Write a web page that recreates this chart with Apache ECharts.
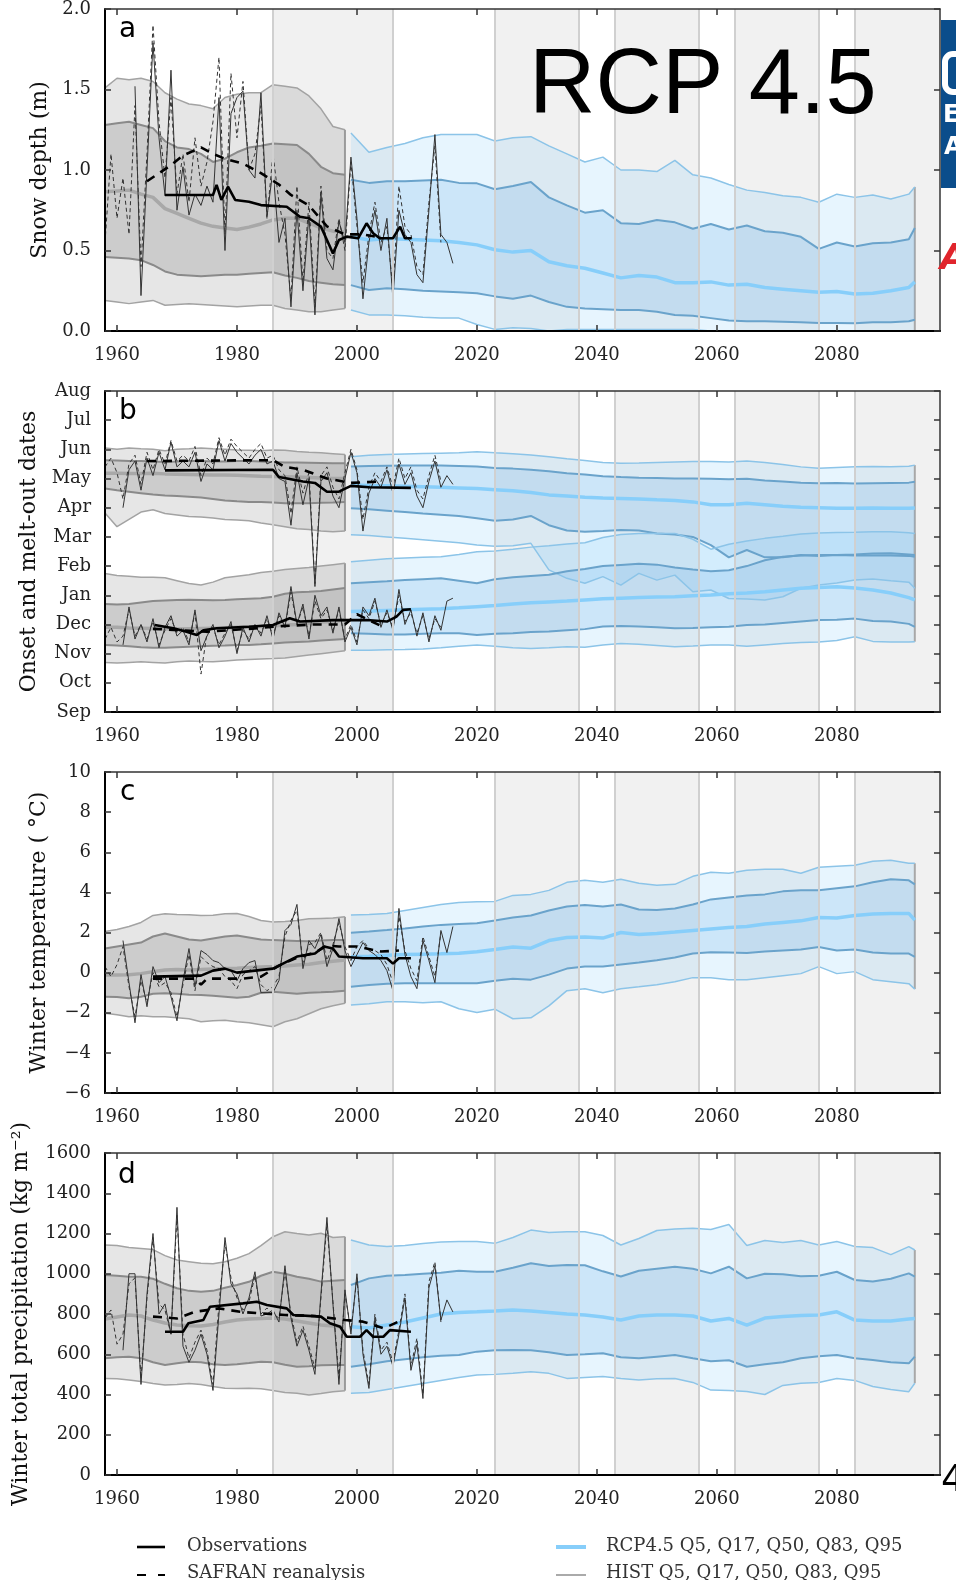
<!DOCTYPE html>
<html><head><meta charset="utf-8">
<script src="https://cdn.jsdelivr.net/npm/echarts@6/dist/echarts.min.js"></script>
<style>html,body{margin:0;padding:0;background:#fff}#c{width:956px;height:1580px}</style>
</head><body><div id="c"></div>
<script>
function range(a, b) { const r = []; for (let y = a; y <= b; y++) r.push(y); return r; }

// ---------- shared categories ----------
const HIST_YEARS = [1958,1960,1962,1964,1966,1968,1970,1972,1974,1976,1978,1980,1982,1984,1986,1988,1990,1992,1994,1996,1998];
const RCP_YEARS = [1999,2002,2005,2008,2011,2014,2017,2020,2023,2026,2029,2032,2035,2038,2041,2044,2047,2050,2053,2056,2059,2062,2065,2068,2071,2074,2077,2080,2083,2086,2089,2092,2093];
const OBS_YEARS = range(1961, 2016);
const SNOW_OBS_YEARS = range(1963, 2016);
const SAFRAN_YEARS = range(1958, 2014);
const X_TICKS = [1960,1980,2000,2020,2040,2060,2080];
const MONTHS = ['Sep','Oct','Nov','Dec','Jan','Feb','Mar','Apr','May','Jun','Jul','Aug'];
const SHADED_PERIODS = [[1986,2006],[2023,2037],[2043,2057],[2063,2077],[2083,2097.2]];

// ---------- panel a : snow depth (m) ----------
const snowHistQ95 = [1.51,1.57,1.56,1.57,1.55,1.48,1.44,1.41,1.40,1.38,1.45,1.47,1.48,1.48,1.53,1.52,1.51,1.46,1.38,1.27,1.25];
const snowHistQ83 = [1.28,1.29,1.30,1.28,1.26,1.18,1.14,1.13,1.10,1.05,1.07,1.11,1.14,1.15,1.165,1.16,1.155,1.10,1.02,0.98,0.97];
const snowHistQ50 = [0.865,0.87,0.875,0.85,0.83,0.76,0.73,0.70,0.67,0.65,0.64,0.63,0.645,0.665,0.69,0.70,0.70,0.67,0.64,0.62,0.615];
const snowHistQ17 = [0.46,0.455,0.45,0.44,0.41,0.37,0.35,0.345,0.34,0.345,0.35,0.35,0.355,0.36,0.365,0.345,0.33,0.31,0.30,0.29,0.285];
const snowHistQ5  = [0.19,0.18,0.17,0.18,0.19,0.16,0.165,0.17,0.165,0.16,0.155,0.15,0.155,0.16,0.16,0.14,0.13,0.12,0.12,0.13,0.14];
const snowRcpQ95 = [1.23,1.11,1.14,1.165,1.20,1.22,1.22,1.22,1.18,1.20,1.207,1.15,1.10,1.05,1.08,1.00,1.00,0.99,1.06,0.97,0.95,0.91,0.875,0.86,0.84,0.83,0.80,0.85,0.83,0.845,0.82,0.85,0.895];
const snowRcpQ83 = [0.94,0.92,0.93,0.93,0.935,0.94,0.92,0.917,0.88,0.90,0.925,0.83,0.78,0.735,0.75,0.67,0.665,0.69,0.675,0.635,0.665,0.63,0.655,0.62,0.61,0.585,0.51,0.55,0.525,0.545,0.55,0.57,0.64];
const snowRcpQ50 = [0.585,0.565,0.575,0.57,0.565,0.56,0.55,0.535,0.505,0.49,0.50,0.43,0.405,0.39,0.36,0.33,0.345,0.335,0.30,0.30,0.305,0.285,0.29,0.27,0.26,0.25,0.24,0.245,0.23,0.235,0.25,0.27,0.305];
const snowRcpQ17 = [0.285,0.255,0.265,0.26,0.25,0.245,0.24,0.234,0.215,0.20,0.22,0.18,0.15,0.14,0.135,0.13,0.13,0.12,0.10,0.095,0.08,0.065,0.06,0.06,0.058,0.055,0.05,0.05,0.048,0.055,0.055,0.06,0.07];
const snowRcpQ5  = [0.13,0.10,0.10,0.095,0.085,0.08,0.08,0.04,0.01,0.02,0.015,0,0.01,0.01,0.01,0.01,0.01,0.01,0.01,0.01,0,0,0,0,0,0,0,0,0,0,0,0,0];
const snowObs = [1.52,0.22,1.0,1.79,1.2,0.84,1.62,0.75,1.02,0.72, 0.85,0.78,0.9,0.8,1.45,0.5,1.35,1.45,1.49,1.0, 0.95,1.48,0.71,1.0,0.55,0.7,0.15,0.75,0.25,0.72, 0.1,0.85,0.45,0.38,0.68,0.55,1.08,0.7,0.2,0.55, 0.75,0.5,0.7,0.2,0.75,0.6,0.55,0.35,0.3,0.75, 1.22,0.6,0.55,0.42];
const snowSafran = [0.55,1.1,0.7,0.95,0.6,1.4,0.4,1.1,1.9,1.3, 0.95,1.45,0.85,1.1,0.8,1.2,0.9,1.05,1.3,1.7, 0.6,1.6,1.2,1.55,1.0,1.1,1.4,0.7,1.1,0.8, 0.6,0.2,0.9,0.3,0.8,0.15,0.9,0.5,0.45,0.7, 0.5,1.05,0.65,0.3,0.6,0.8,0.55,0.65,0.25,0.9, 0.65,0.6,0.4,0.35,0.8,1.15,0.55];
const snowObsSmoothYears = [1968,1976,1976.6,1977.4,1978.5,1979.7,1982,1984,1988.3,1990.5,1992,1994,1995,1996,1997,1998.3,2000.2,2001.6,2002.7,2003.8,2006,2007.2,2008,2009.1];
const snowObsSmooth = [0.845,0.845,0.907,0.814,0.896,0.814,0.803,0.782,0.772,0.71,0.70,0.648,0.565,0.482,0.565,0.586,0.576,0.669,0.607,0.576,0.576,0.648,0.576,0.576];
const snowSafranSmoothYears = [1965,1967,1969,1971,1974,1976,1978,1981,1984,1987,1989,1992,1995,1998,2001,2004];
const snowSafranSmooth = [0.93,0.98,1.03,1.09,1.14,1.1,1.07,1.04,0.98,0.91,0.845,0.78,0.65,0.6,0.6,0.58];

// ---------- panel b : dates (months after 1 Sep) ----------
const meltHistQ95 = [9.05,9.0,9.05,9.02,9.0,8.95,9.0,9.02,9.05,9.02,9.0,8.98,8.97,8.95,8.98,8.97,8.93,8.9,8.88,8.85,8.82];
const meltHistQ83 = [8.63,8.62,8.6,8.6,8.58,8.57,8.58,8.6,8.6,8.58,8.58,8.6,8.6,8.58,8.57,8.55,8.55,8.54,8.53,8.52,8.52];
const meltHistQ50 = [8.18,8.18,8.17,8.17,8.18,8.16,8.15,8.14,8.13,8.12,8.12,8.11,8.1,8.08,8.07,8.06,8.05,8.04,8.02,8.0,8.0];
const meltHistQ17 = [7.66,7.6,7.55,7.5,7.45,7.42,7.4,7.38,7.35,7.3,7.25,7.22,7.2,7.2,7.18,7.15,7.15,7.15,7.17,7.18,7.2];
const meltHistQ5  = [6.82,6.35,6.6,6.85,6.93,6.8,6.75,6.7,6.68,6.65,6.6,6.58,6.55,6.48,6.42,6.35,6.28,6.25,6.2,6.18,6.2];
const onsetHistQ95 = [4.75,4.68,4.65,4.62,4.62,4.6,4.5,4.4,4.35,4.45,4.6,4.65,4.7,4.78,4.82,4.88,4.92,4.95,5.0,5.05,5.1];
const onsetHistQ83 = [3.7,3.68,3.7,3.75,3.8,3.82,3.84,3.85,3.84,3.83,3.84,3.86,3.88,3.9,3.95,4.05,4.1,4.12,4.15,4.2,4.25];
const onsetHistQ50 = [2.9,2.9,2.88,2.87,2.86,2.85,2.84,2.85,2.86,2.87,2.88,2.9,2.92,2.93,2.95,2.98,3.0,3.05,3.08,3.1,3.15];
const onsetHistQ17 = [2.3,2.28,2.25,2.22,2.2,2.2,2.22,2.24,2.25,2.27,2.28,2.3,2.3,2.32,2.35,2.38,2.4,2.42,2.45,2.48,2.5];
const onsetHistQ5  = [1.7,1.68,1.7,1.72,1.7,1.68,1.72,1.75,1.73,1.72,1.75,1.78,1.8,1.82,1.83,1.85,1.9,1.95,2.0,2.05,2.1];
const meltRcpQ95 = [8.75,8.8,8.82,8.84,8.86,8.87,8.88,8.92,8.88,8.85,8.81,8.75,8.68,8.62,8.55,8.52,8.53,8.55,8.57,8.58,8.58,8.57,8.6,8.55,8.48,8.4,8.35,8.38,8.4,8.41,8.4,8.42,8.46];
const meltRcpQ83 = [8.41,8.43,8.44,8.45,8.45,8.45,8.43,8.41,8.36,8.34,8.3,8.25,8.18,8.14,8.08,8.05,8.03,8.02,8.0,8.0,7.99,7.98,7.99,7.93,7.9,7.86,7.84,7.85,7.83,7.84,7.85,7.86,7.89];
const meltRcpQ50 = [7.78,7.76,7.75,7.74,7.72,7.7,7.68,7.66,7.62,7.58,7.52,7.44,7.4,7.36,7.33,7.32,7.3,7.27,7.25,7.2,7.1,7.1,7.15,7.1,7.05,7.02,7.0,6.98,6.98,6.99,6.98,6.98,6.99];
const meltRcpQ17 = [6.98,6.95,6.9,6.85,6.8,6.76,6.72,6.64,6.55,6.6,6.72,6.4,6.22,6.18,6.2,6.24,6.22,6.12,6.08,6.0,5.72,5.3,5.55,5.3,5.3,5.38,5.35,5.38,5.36,5.36,5.36,5.35,5.32];
const meltRcpQ5  = [6.07,6.05,6.0,5.95,5.9,5.85,5.8,5.72,5.68,5.7,5.78,4.87,4.58,4.41,4.64,4.35,4.75,4.52,4.69,4.12,4.18,3.89,3.87,3.84,3.95,4.24,4.35,4.42,4.52,4.56,4.5,4.45,4.24];
const onsetRcpQ95 = [5.15,5.2,5.25,5.28,5.3,5.32,5.4,5.49,5.52,5.58,5.65,5.7,5.76,5.8,5.98,6.08,6.12,6.12,6.12,5.92,5.58,5.75,5.86,5.95,6.02,6.1,6.13,6.15,6.16,6.18,6.18,6.14,6.12];
const onsetRcpQ83 = [4.41,4.45,4.48,4.52,4.55,4.58,4.5,4.41,4.55,4.62,4.66,4.7,4.82,4.9,5.0,5.04,5.08,5.05,4.95,4.88,4.82,4.86,5.0,5.2,5.32,5.36,5.38,5.38,5.4,5.43,5.44,5.4,5.38];
const onsetRcpQ50 = [3.44,3.46,3.48,3.5,3.52,3.54,3.57,3.61,3.65,3.7,3.74,3.77,3.8,3.84,3.88,3.9,3.92,3.94,3.95,3.98,4.01,4.05,4.08,4.12,4.18,4.24,4.27,4.29,4.25,4.18,4.08,3.92,3.84];
const onsetRcpQ17 = [2.7,2.68,2.66,2.66,2.68,2.7,2.7,2.64,2.68,2.7,2.74,2.76,2.8,2.84,2.93,2.95,2.93,2.9,2.87,2.88,2.9,2.92,2.98,3.0,3.05,3.1,3.15,3.16,3.2,3.12,3.1,3.02,2.92];
const onsetRcpQ5  = [2.12,2.12,2.13,2.14,2.16,2.2,2.25,2.3,2.25,2.2,2.18,2.2,2.24,2.22,2.3,2.35,2.32,2.28,2.24,2.26,2.3,2.3,2.25,2.3,2.35,2.38,2.4,2.45,2.58,2.42,2.4,2.4,2.41];
const meltObs = [7.0,8.3,8.6,7.6,8.7,8.1,8.9,8.3,9.25,8.4, 8.6,8.4,8.9,7.9,8.5,8.3,9.3,8.6,9.2,8.9, 8.7,8.5,8.8,9.0,8.5,8.6,8.0,7.9,6.4,8.2, 7.1,8.0,4.3,7.9,8.2,7.4,7.0,8.0,8.9,8.2, 6.2,7.5,8.0,7.7,8.3,7.5,8.5,7.8,8.2,7.4, 7.0,7.9,8.6,7.7,8.1,7.8];
const onsetObs = [2.3,3.6,2.5,3.0,2.4,3.2,2.2,2.9,3.3,2.6, 2.8,2.3,3.5,2.1,2.6,3.0,2.2,2.6,3.1,2.0, 2.9,2.4,3.0,2.6,3.3,2.5,3.4,2.9,4.3,3.0, 3.7,2.5,4.0,3.3,3.6,2.7,3.6,2.4,2.9,2.3, 3.6,3.3,3.9,2.9,3.5,2.8,4.2,3.0,3.5,2.6, 3.4,2.4,3.3,2.8,3.8,3.9];
const meltSafran = [8.4,8.7,8.2,7.3,8.5,8.8,7.8,8.9,8.3,9.0, 8.5,9.3,8.6,8.8,8.6,9.1,8.1,8.7,8.5,9.4, 8.8,9.35,9.1,8.9,8.7,9.0,9.2,8.7,8.8,8.3, 8.1,6.8,8.4,7.5,8.2,4.4,8.1,8.4,7.7,7.3, 8.2,9.0,8.3,6.6,7.7,8.2,7.9,8.4,7.7,8.7, 8.0,8.4,7.6,7.3,8.1,8.8,7.9];
const onsetSafran = [2.5,2.9,2.4,2.6,3.5,2.6,3.0,2.5,3.1,2.3, 2.8,3.2,2.7,2.9,2.4,3.4,1.3,2.7,2.9,2.3, 2.7,3.0,2.1,2.8,2.5,3.0,2.7,3.2,2.6,3.3, 2.9,4.1,3.0,3.6,2.6,3.8,3.2,3.5,2.8,3.5, 2.5,3.0,2.4,3.5,3.2,3.8,3.0,3.4,2.9,4.0, 3.1,3.4,2.7,3.3,2.5,3.2,2.9];
const meltObsSmoothYears = [1968,1986,1987,1991,1993,1995,1997,1999,2002,2009];
const meltObsSmooth = [8.28,8.3,8.05,7.9,7.85,7.55,7.55,7.75,7.7,7.68];
const meltSafranSmoothYears = [1965,1986,1988,1991,1995,1999,2004];
const meltSafranSmooth = [8.6,8.63,8.4,8.3,8.0,7.85,7.9];
const onsetObsSmoothYears = [1966.3,1969.4,1971.6,1973.3,1974.4,1976.6,1982,1986,1988.8,1990.5,1996,2001.6,2005,2006.6,2007.7,2009];
const onsetObsSmooth = [2.98,2.87,2.75,2.64,2.8,2.87,2.92,2.98,3.21,3.1,3.15,3.15,3.1,3.27,3.5,3.52];
const onsetSafranSmoothYears = [1966,1975,1982,1988,1993,1998,2000,2004];
const onsetSafranSmooth = [2.85,2.75,2.85,2.95,3.0,3.0,3.35,2.95];

// ---------- panel c : winter temperature (°C) ----------
const tempHistQ95 = [2.05,2.15,2.3,2.5,2.85,2.94,2.9,2.88,2.85,2.86,2.93,2.95,2.8,2.6,2.52,2.55,2.6,2.68,2.7,2.72,2.78];
const tempHistQ83 = [1.2,1.3,1.4,1.5,1.8,1.95,1.8,1.65,1.6,1.7,1.8,1.85,1.75,1.65,1.62,1.6,1.58,1.56,1.6,1.63,1.63];
const tempHistQ50 = [-0.12,-0.12,-0.1,-0.05,0.05,0.13,0.15,0.13,0.15,0.18,0.2,0.22,0.25,0.28,0.3,0.33,0.38,0.42,0.5,0.57,0.63];
const tempHistQ17 = [-1.2,-1.22,-1.28,-1.2,-1.05,-1.03,-1.05,-1.1,-1.12,-1.15,-1.2,-1.25,-1.2,-1.0,-0.95,-1.0,-1.05,-1.0,-0.98,-0.95,-0.9];
const tempHistQ5  = [-2.03,-2.1,-2.2,-2.15,-2.2,-2.2,-2.25,-2.3,-2.45,-2.4,-2.37,-2.45,-2.5,-2.6,-2.7,-2.45,-2.3,-2.05,-1.8,-1.65,-1.53];
const tempRcpQ95 = [2.87,2.9,2.95,3.1,3.25,3.4,3.5,3.53,3.55,3.85,3.9,4.1,4.5,4.6,4.5,4.65,4.45,4.35,4.4,4.8,5.0,4.95,5.1,5.15,5.15,4.95,5.25,5.3,5.35,5.55,5.6,5.45,5.45];
const tempRcpQ83 = [1.99,2.05,2.12,2.2,2.3,2.38,2.42,2.46,2.6,2.75,2.85,3.1,3.3,3.37,3.3,3.4,3.15,3.12,3.2,3.4,3.65,3.75,3.85,3.9,4.05,4.1,4.1,4.2,4.3,4.5,4.65,4.6,4.4];
const tempRcpQ50 = [0.79,0.82,0.87,0.9,0.92,0.94,0.97,1.04,1.15,1.28,1.22,1.6,1.75,1.78,1.72,2.0,1.9,1.95,2.02,2.1,2.18,2.25,2.3,2.42,2.5,2.58,2.75,2.72,2.85,2.92,2.95,2.95,2.62];
const tempRcpQ17 = [-0.7,-0.62,-0.55,-0.53,-0.53,-0.53,-0.53,-0.53,-0.4,-0.3,-0.35,-0.1,0.2,0.3,0.3,0.4,0.5,0.62,0.75,0.95,1.02,1.0,0.98,1.05,1.1,1.15,1.28,1.1,1.15,1.0,0.95,0.95,0.79];
const tempRcpQ5  = [-1.61,-1.55,-1.45,-1.45,-1.5,-1.45,-1.8,-1.99,-1.82,-2.3,-2.25,-1.66,-0.9,-0.8,-1.0,-0.8,-0.7,-0.6,-0.45,-0.25,-0.25,-0.35,-0.35,-0.25,-0.15,-0.05,0.3,-0.05,0.05,-0.35,-0.45,-0.55,-0.82];
const tempObs = [1.6,-0.5,-2.5,-0.1,-1.7,0.3,-0.5,-0.2,-1.2,-2.4, -0.4,1.2,-0.7,1.1,0.9,0.6,0.5,0.2,0.1,-0.4, 0.2,0.5,0.6,-1.0,-1.0,-1.0,-0.4,2.1,2.4,3.4, 0.2,1.6,1.2,1.9,0.3,1.2,2.7,1.1,0.3,0.9, 1.5,1.1,0.9,0.6,0.1,-0.9,3.2,0.9,-0.2,-0.8, 1.6,0.6,-0.5,2.1,1.0,2.3];
const tempSafran = [0.3,-0.2,0.4, 1.3,-0.7,-2.2,-0.4,-1.5,0.0,-0.7,-0.5,-1.0,-2.2, -0.6,0.9,-0.9,0.8,0.5,0.3,0.2,-0.2,-0.4,-0.8, -0.1,0.1,0.3,-0.6,-0.9,-0.7,-0.2,1.8,2.6,3.1, 0.5,1.4,1.5,2.0,0.6,1.4,2.5,1.3,0.6,1.3, 1.6,1.2,1.1,0.9,0.4,-0.5,2.8,1.1,0.2,-0.4, 1.8,0.8,-0.2,2.0];
const tempObsSmoothYears = [1966,1974,1976,1978,1980,1983,1986,1988,1990,1993,1994.5,1996,1997,2001,2005,2006,2007,2009];
const tempObsSmooth = [-0.2,-0.15,0.1,0.2,0.0,0.1,0.2,0.5,0.8,0.95,1.3,1.2,0.8,0.72,0.72,0.45,0.72,0.72];
const tempSafranSmoothYears = [1966,1973,1974,1975,1981,1984,1987,1990,1993,1995,1997,2000,2004,2007];
const tempSafranSmooth = [-0.3,-0.3,-0.6,-0.3,-0.3,-0.2,0.35,0.75,1.0,1.35,1.3,1.3,1.05,1.1];

// ---------- panel d : winter total precipitation (kg m-2) ----------
const precHistQ95 = [1143,1140,1130,1126,1120,1090,1068,1060,1052,1050,1060,1077,1100,1140,1184,1209,1200,1193,1201,1180,1184];
const precHistQ83 = [994,990,985,985,975,950,928,915,911,915,930,944,960,990,1010,1000,985,975,961,965,969];
const precHistQ50 = [775,785,795,790,770,755,745,742,740,748,760,770,775,778,780,775,765,755,745,740,735];
const precHistQ17 = [580,585,588,580,560,547,555,563,560,550,547,550,556,563,560,548,538,540,545,547,547];
const precHistQ5  = [480,478,472,465,455,447,450,455,450,440,431,430,431,428,420,410,406,398,405,414,419];
const precRcpQ95 = [1168,1143,1135,1140,1150,1158,1160,1160,1151,1180,1217,1205,1209,1209,1190,1143,1175,1215,1222,1226,1220,1245,1140,1165,1155,1165,1143,1160,1135,1130,1095,1135,1118];
const precRcpQ83 = [944,977,990,994,1000,1005,1015,1010,1010,1030,1052,1038,1044,1042,1012,986,1015,1025,1035,1025,1002,1035,977,1000,998,988,990,1010,969,961,975,1002,986];
const precRcpQ50 = [737,730,745,760,780,800,808,811,815,820,815,808,800,795,785,770,790,795,795,790,765,778,745,780,787,792,795,811,770,765,765,775,778];
const precRcpQ17 = [538,550,565,575,585,592,596,613,620,621,620,610,596,600,605,585,580,588,596,580,565,570,538,550,560,580,590,596,580,571,560,555,588];
const precRcpQ5  = [406,410,425,440,455,470,485,497,500,505,513,505,480,485,489,480,472,478,480,460,422,420,415,400,445,456,460,480,470,440,425,414,456];
const precObs = [620,1000,1000,450,900,1200,800,850,700,1330, 640,560,620,700,600,420,800,1180,950,900, 800,880,1010,790,800,820,760,1040,780,640, 720,620,500,900,1280,850,450,920,700,1000, 600,430,780,600,640,540,700,880,520,650, 380,930,1040,770,870,810];
const precSafran = [780,820,650, 700,950,980,480,880,1180,850,820,700,1290, 700,580,660,720,620,450,850,1150,980,880, 820,860,990,800,830,800,780,1010,800,660, 740,640,530,880,1250,860,480,900,720,980, 620,450,800,620,660,560,720,900,540,680, 400,960,1060,760];
const precObsSmoothYears = [1968,1971,1971.9,1974.4,1975.5,1981,1983.3,1985,1988.3,1989.4,1994,1995.5,1997.2,1998.3,2000.5,2001.6,2002.7,2004.4,2005.5,2009];
const precObsSmooth = [712,712,754,770,836,853,861,845,828,795,787,754,737,687,687,720,687,687,720,712];
const precSafranSmoothYears = [1966,1970,1973,1977,1980.5,1984,1988,1993,1998,2001,2004.5,2007.5];
const precSafranSmooth = [787,778,811,828,811,803,795,790,770,762,729,770];

// ---------- styling ----------
const SERIF = 'DejaVu Serif';
const HIST_COL = {outer:'rgba(128,128,128,0.2)', inner:'rgba(128,128,128,0.25)', q5:'#a3a3a3', q17:'#8a8a8a', q50:'#a8a8a8', edge:'#9a9a9a'};
const RCP_COL = {outer:'rgba(135,206,250,0.2)', inner:'rgba(100,170,230,0.2)', q5:'#8cc4e8', q17:'#6aa3cb', q50:'#87cefa', edge:'#a8a8a8'};

function check(name, xs, ys) { if (xs.length !== ys.length) throw new Error('length mismatch ' + name + ': ' + xs.length + ' vs ' + ys.length); }

function band(gi, xs, lo, hi, fill, edge) {
  return {
    type: 'custom', xAxisIndex: 2 * gi, yAxisIndex: 2 * gi, silent: true, z: 2,
    data: [[xs[0], lo[0]]],
    renderItem: function (params, api) {
      const pts = [];
      for (let k = 0; k < xs.length; k++) pts.push(api.coord([xs[k], hi[k]]));
      for (let k = xs.length - 1; k >= 0; k--) pts.push(api.coord([xs[k], lo[k]]));
      const children = [{type: 'polygon', shape: {points: pts}, style: {fill: fill}}];
      if (edge) {
        const n = xs.length - 1;
        const a = api.coord([xs[n], lo[n]]), b = api.coord([xs[n], hi[n]]);
        children.push({type: 'line', shape: {x1: a[0], y1: a[1], x2: b[0], y2: b[1]}, style: {stroke: edge, lineWidth: 2}});
      }
      return {type: 'group', children: children};
    }
  };
}
function line(gi, xs, ys, style, z, name) {
  check(name || 'line', xs, ys);
  return {type: 'line', xAxisIndex: 2 * gi, yAxisIndex: 2 * gi, data: xs.map((x, k) => [x, ys[k]]),
    showSymbol: false, symbol: 'none', silent: true, z: z, lineStyle: style, clip: true};
}
function quantiles(gi, xs, q, col, name) {
  q.forEach((arr, i) => check(name + i, xs, arr));
  return [
    band(gi, xs, q[0], q[4], col.outer, col.edge),
    band(gi, xs, q[1], q[3], col.inner, null),
    line(gi, xs, q[0], {color: col.q5, width: 1.5}, 3),
    line(gi, xs, q[4], {color: col.q5, width: 1.5}, 3),
    line(gi, xs, q[1], {color: col.q17, width: 2}, 3),
    line(gi, xs, q[3], {color: col.q17, width: 2}, 3),
    line(gi, xs, q[2], {color: col.q50, width: 3.5}, 3)
  ];
}
function observations(gi, obsX, obs, safX, saf, obsSX, obsS, safSX, safS, name) {
  return [
    line(gi, safX, saf, {color: '#333', width: 1, type: [4, 3]}, 4, name + 'saf'),
    line(gi, obsX, obs, {color: '#333', width: 1}, 4, name + 'obs'),
    line(gi, safSX, safS, {color: '#000', width: 2.6, type: [9, 7]}, 5, name + 'safS'),
    line(gi, obsSX, obsS, {color: '#000', width: 2.6}, 5, name + 'obsS')
  ];
}
function periods(gi, yMin) {
  return {
    type: 'line', xAxisIndex: 2 * gi, yAxisIndex: 2 * gi, data: [[1958, yMin]], showSymbol: false, silent: true, z: 1,
    lineStyle: {width: 0},
    markArea: {silent: true, itemStyle: {color: '#f1f1f1'},
      data: SHADED_PERIODS.map(p => [{xAxis: p[0]}, {xAxis: p[1]}])},
    markLine: {silent: true, symbol: ['none', 'none'], label: {show: false},
      lineStyle: {color: '#d0d0d0', width: 2, type: 'solid'},
      data: SHADED_PERIODS.flatMap(p => p[1] < 2097 ? [{xAxis: p[0]}, {xAxis: p[1]}] : [{xAxis: p[0]}])}
  };
}

const GRIDS = [{top: 9, height: 322}, {top: 391, height: 321}, {top: 772, height: 321}, {top: 1153, height: 322}];
const Y_CFG = [
  {min: 0, max: 2, interval: 0.5, fmt: v => v.toFixed(1), name: 'Snow depth (m)', gap: 54},
  {min: 0, max: 11, interval: 1, fmt: v => MONTHS[Math.round(v)], name: 'Onset and melt-out dates', gap: 65},
  {min: -6, max: 10, interval: 2, fmt: v => v < 0 ? '\u2212' + Math.abs(v) : String(v), name: 'Winter temperature ( \u00b0C)', gap: 55},
  {min: 0, max: 1600, interval: 200, fmt: v => String(v), name: 'Winter total precipitation (kg m\u207b\u00b2)', gap: 73}
];

const grid = [], xAxis = [], yAxis = [];
GRIDS.forEach((g, i) => {
  grid.push({left: 105, width: 835, top: g.top, height: g.height, containLabel: false});
  const tick = {show: true, inside: true, length: 6, customValues: X_TICKS, lineStyle: {color: '#333', width: 1.5}};
  xAxis.push({gridIndex: i, type: 'value', min: 1958, max: 2097.2, position: 'bottom', z: 10,
    axisLine: {show: true, onZero: false, lineStyle: {color: '#000', width: 2}}, axisTick: tick,
    axisLabel: {show: true, customValues: X_TICKS, fontFamily: SERIF, fontSize: 18, color: '#222', margin: 15,
      formatter: v => String(Math.round(v))},
    splitLine: {show: false}});
  xAxis.push({gridIndex: i, type: 'value', min: 1958, max: 2097.2, position: 'top', z: 10,
    axisLine: {show: true, onZero: false, lineStyle: {color: '#333', width: 1.5}}, axisTick: tick,
    axisLabel: {show: false}, splitLine: {show: false}});
  const c = Y_CFG[i];
  const ytick = {show: true, inside: true, length: 6, lineStyle: {color: '#333', width: 1.5}};
  yAxis.push({gridIndex: i, type: 'value', min: c.min, max: c.max, interval: c.interval, position: 'left', z: 10,
    axisLine: {show: true, onZero: false, lineStyle: {color: '#000', width: 2}}, axisTick: ytick,
    axisLabel: {fontFamily: SERIF, fontSize: 18, color: '#222', margin: 14, formatter: c.fmt},
    splitLine: {show: false},
    name: c.name, nameLocation: 'middle', nameGap: c.gap, nameTextStyle: {fontFamily: SERIF, fontSize: 22, color: '#111'}});
  yAxis.push({gridIndex: i, type: 'value', min: c.min, max: c.max, interval: c.interval, position: 'right', z: 10,
    axisLine: {show: true, onZero: false, lineStyle: {color: '#333', width: 1.5}}, axisTick: ytick,
    axisLabel: {show: false}, splitLine: {show: false}});
});

const series = [].concat(
  [periods(0, 0)],
  quantiles(0, HIST_YEARS, [snowHistQ5, snowHistQ17, snowHistQ50, snowHistQ83, snowHistQ95], HIST_COL, 'snowHist'),
  quantiles(0, RCP_YEARS, [snowRcpQ5, snowRcpQ17, snowRcpQ50, snowRcpQ83, snowRcpQ95], RCP_COL, 'snowRcp'),
  observations(0, SNOW_OBS_YEARS, snowObs, SAFRAN_YEARS, snowSafran, snowObsSmoothYears, snowObsSmooth, snowSafranSmoothYears, snowSafranSmooth, 'snow'),

  [periods(1, 0)],
  quantiles(1, HIST_YEARS, [meltHistQ5, meltHistQ17, meltHistQ50, meltHistQ83, meltHistQ95], HIST_COL, 'meltHist'),
  quantiles(1, HIST_YEARS, [onsetHistQ5, onsetHistQ17, onsetHistQ50, onsetHistQ83, onsetHistQ95], HIST_COL, 'onsetHist'),
  quantiles(1, RCP_YEARS, [meltRcpQ5, meltRcpQ17, meltRcpQ50, meltRcpQ83, meltRcpQ95], RCP_COL, 'meltRcp'),
  quantiles(1, RCP_YEARS, [onsetRcpQ5, onsetRcpQ17, onsetRcpQ50, onsetRcpQ83, onsetRcpQ95], RCP_COL, 'onsetRcp'),
  observations(1, OBS_YEARS, meltObs, SAFRAN_YEARS, meltSafran, meltObsSmoothYears, meltObsSmooth, meltSafranSmoothYears, meltSafranSmooth, 'melt'),
  observations(1, OBS_YEARS, onsetObs, SAFRAN_YEARS, onsetSafran, onsetObsSmoothYears, onsetObsSmooth, onsetSafranSmoothYears, onsetSafranSmooth, 'onset'),

  [periods(2, -6)],
  quantiles(2, HIST_YEARS, [tempHistQ5, tempHistQ17, tempHistQ50, tempHistQ83, tempHistQ95], HIST_COL, 'tempHist'),
  quantiles(2, RCP_YEARS, [tempRcpQ5, tempRcpQ17, tempRcpQ50, tempRcpQ83, tempRcpQ95], RCP_COL, 'tempRcp'),
  observations(2, OBS_YEARS, tempObs, SAFRAN_YEARS, tempSafran, tempObsSmoothYears, tempObsSmooth, tempSafranSmoothYears, tempSafranSmooth, 'temp'),

  [periods(3, 0)],
  quantiles(3, HIST_YEARS, [precHistQ5, precHistQ17, precHistQ50, precHistQ83, precHistQ95], HIST_COL, 'precHist'),
  quantiles(3, RCP_YEARS, [precRcpQ5, precRcpQ17, precRcpQ50, precRcpQ83, precRcpQ95], RCP_COL, 'precRcp'),
  observations(3, OBS_YEARS, precObs, SAFRAN_YEARS, precSafran, precObsSmoothYears, precObsSmooth, precSafranSmoothYears, precSafranSmooth, 'prec')
);

function txt(x, y, text, font, fill, extra) {
  return {type: 'text', x: x, y: y, z: 20, silent: true,
    style: Object.assign({text: text, font: font, fill: fill || '#000', align: 'left', verticalAlign: 'middle'}, extra || {})};
}
function seg(x1, y1, x2, y2, stroke, w, dash) {
  return {type: 'line', z: 20, silent: true, shape: {x1: x1, y1: y1, x2: x2, y2: y2},
    style: {stroke: stroke, lineWidth: w, lineDash: dash || null}};
}
const LEG_FONT = '18px "DejaVu Serif"';
const graphic = [
  txt(119, 30, 'a', '28px "DejaVu Sans"'),
  txt(119, 412, 'b', '28px "DejaVu Sans"'),
  txt(120, 793, 'c', '28px "DejaVu Sans"'),
  txt(118, 1176, 'd', '28px "DejaVu Sans"'),
  txt(529, 88, 'RCP 4.5', '92px "Liberation Sans"'),
  // legend
  seg(137, 1547, 165, 1547, '#000', 2.6),
  txt(187, 1546, 'Observations', LEG_FONT, '#333'),
  seg(137, 1575, 165, 1575, '#000', 2.2, [9, 12]),
  txt(187, 1573, 'SAFRAN reanalysis', LEG_FONT, '#333'),
  seg(556, 1547, 586, 1547, '#87cefa', 4),
  txt(606, 1546, 'RCP4.5 Q5, Q17, Q50, Q83, Q95', LEG_FONT, '#333'),
  seg(556, 1575, 586, 1575, '#aaaaaa', 2),
  txt(606, 1573, 'HIST Q5, Q17, Q50, Q83, Q95', LEG_FONT, '#333'),
  // cropped neighbouring figure fragments at the right edge
  {type: 'rect', z: 20, silent: true, shape: {x: 941, y: 20, width: 15, height: 168}, style: {fill: '#0b4d8b'}},
  {type: 'rect', z: 21, silent: true, shape: {x: 945, y: 54, width: 20, height: 38, r: 8}, style: {fill: 'none', stroke: '#fff', lineWidth: 6}},
  txt(943, 116, 'E', 'bold 24px "DejaVu Sans"', '#fff'),
  txt(944, 148, 'A', 'bold 24px "DejaVu Sans"', '#fff'),
  txt(940, 260, 'A', 'italic bold 36px "DejaVu Sans"', '#e0252c'),
  txt(941, 1481, '4', '38px "DejaVu Sans"', '#000')
];

const option = {
  animation: false,
  backgroundColor: '#ffffff',
  grid: grid, xAxis: xAxis, yAxis: yAxis,
  series: series,
  graphic: graphic
};
const chart = echarts.init(document.getElementById('c'), null, {renderer: 'canvas'});
chart.setOption(option);
</script></body></html>
